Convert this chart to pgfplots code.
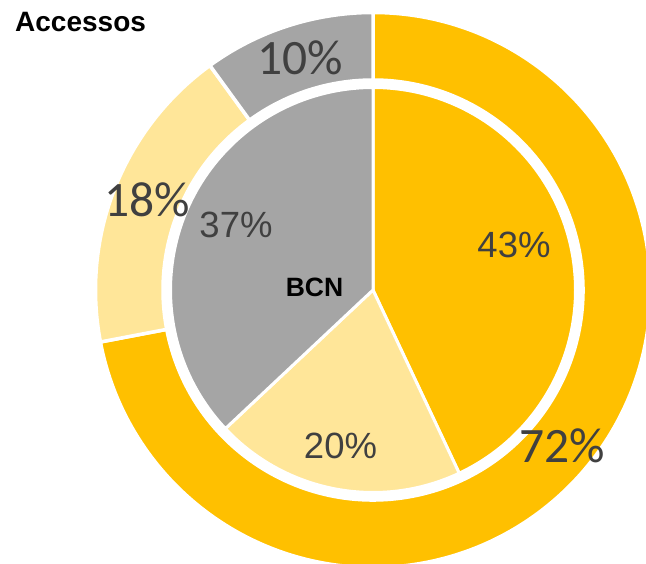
\documentclass[border=0pt]{standalone}
\usepackage{pgfplots}
\pgfplotsset{compat=1.18}
\usepackage{pgfplotstable}
\usepackage{fontspec}
\setmainfont{Liberation Sans}
\newfontfamily\calibri{Carlito}
\definecolor{cY}{HTML}{FFC000}
\definecolor{cL}{HTML}{FFE699}
\definecolor{cG}{HTML}{A5A5A5}
\definecolor{cT}{HTML}{404040}

\pgfplotstableread{
part value
Y 72
L 18
G 10
}\outerdata
\pgfplotstableread{
part value
Y 43
L 20
G 37
}\innerdata

% angles (clockwise from top)
\pgfplotstablegetelem{0}{value}\of\outerdata \let\oY\pgfplotsretval
\pgfplotstablegetelem{1}{value}\of\outerdata \let\oL\pgfplotsretval
\pgfplotstablegetelem{2}{value}\of\outerdata \let\oG\pgfplotsretval
\pgfplotstablegetelem{0}{value}\of\innerdata \let\iY\pgfplotsretval
\pgfplotstablegetelem{1}{value}\of\innerdata \let\iL\pgfplotsretval
\pgfplotstablegetelem{2}{value}\of\innerdata \let\iG\pgfplotsretval
\pgfmathsetmacro\oa{90}
\pgfmathsetmacro\ob{\oa-3.6*\oY}
\pgfmathsetmacro\oc{\ob-3.6*\oL}
\pgfmathsetmacro\od{\oc-3.6*\oG}
\pgfmathsetmacro\ia{90}
\pgfmathsetmacro\ib{\ia-3.6*\iY}
\pgfmathsetmacro\ic{\ib-3.6*\iL}
\pgfmathsetmacro\id{\ic-3.6*\iG}

\def\cx{373}
\def\cy{273}
\def\Rout{277.5}
\def\Rin{210}
\def\Rpie{202.5}

\newcommand{\ringsector}[3]{%
  \fill[#1, draw=white, line width=3.5pt, line join=miter]
    ({\cx+\Rout*cos(#2)},{\cy+\Rout*sin(#2)})
    arc[start angle=#2, end angle=#3, radius=\Rout pt]
    -- ({\cx+\Rin*cos(#3)},{\cy+\Rin*sin(#3)})
    arc[start angle=#3, end angle=#2, radius=\Rin pt] -- cycle;}
\newcommand{\piesector}[3]{%
  \fill[#1, draw=white, line width=3pt, line join=round]
    (\cx,\cy) -- ({\cx+\Rpie*cos(#2)},{\cy+\Rpie*sin(#2)})
    arc[start angle=#2, end angle=#3, radius=\Rpie pt] -- cycle;}

\begin{document}
\begin{tikzpicture}
\begin{axis}[
  width=646pt, height=563pt, scale only axis,
  xmin=0, xmax=646, ymin=0, ymax=563,
  hide axis, clip=true,
]
\ringsector{cY}{\oa}{\ob}
\ringsector{cL}{\ob}{\oc}
\ringsector{cG}{\oc}{\od}
\piesector{cY}{\ia}{\ib}
\piesector{cL}{\ib}{\ic}
\piesector{cG}{\ic}{\id}

\node[anchor=base west, inner sep=0, font=\bfseries\fontsize{28}{33}\selectfont] at (axis cs:15,531) {Accessos};
\node[anchor=base, inner sep=0, font=\bfseries\fontsize{26.5}{31}\selectfont] at (axis cs:314.5,266) {BCN};

\node[anchor=base, inner sep=0, text=cT, font=\calibri\fontsize{49.5}{58}\selectfont] at (axis cs:300,488) {10\%};
\node[anchor=base, inner sep=0, text=cT, font=\calibri\fontsize{49.5}{58}\selectfont] at (axis cs:147,346) {18\%};
\node[anchor=base, inner sep=0, text=cT, font=\calibri\fontsize{49.5}{58}\selectfont] at (axis cs:562.5,100) {72\%};

\node[anchor=base, inner sep=0, text=cT, font=\fontsize{36.5}{43}\selectfont] at (axis cs:236,325) {37\%};
\node[anchor=base, inner sep=0, text=cT, font=\fontsize{36.5}{43}\selectfont] at (axis cs:514,305) {43\%};
\node[anchor=base, inner sep=0, text=cT, font=\fontsize{36.5}{43}\selectfont] at (axis cs:340.5,104) {20\%};
\end{axis}
\pgfresetboundingbox
\path[use as bounding box] (current axis.south west) rectangle (current axis.north east);
\end{tikzpicture}
\end{document}
